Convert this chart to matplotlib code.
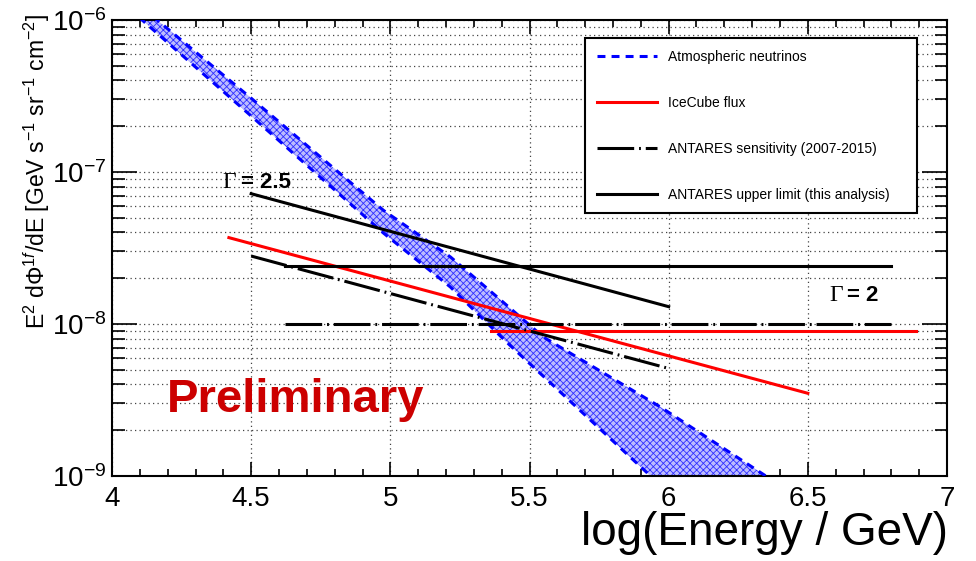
import matplotlib
matplotlib.use('Agg')
import matplotlib.pyplot as plt
from matplotlib.ticker import LogLocator, MultipleLocator, FuncFormatter, NullFormatter, FixedLocator
import numpy as np

plt.rcParams['font.family'] = ['Liberation Sans', 'DejaVu Sans']
plt.rcParams['mathtext.fontset'] = 'custom'
plt.rcParams['mathtext.rm'] = 'Liberation Sans'
plt.rcParams['mathtext.it'] = 'Liberation Sans:italic'
plt.rcParams['mathtext.bf'] = 'Liberation Sans:bold'
plt.rcParams['hatch.linewidth'] = 0.6

# ---------------- data ----------------
# atmospheric neutrino band (upper / lower edges)
atm_up_x = [4.0, 4.162, 4.496, 4.975, 5.216, 5.396, 5.55, 5.971, 6.349, 6.4]
atm_up_y = [1.75e-6, 1.0e-6, 3.1e-7, 5.6e-8, 2.76e-8, 1.44e-8, 8.2e-9, 2.84e-9, 1.0e-9, 8.5e-10]
atm_lo_x = [4.0, 4.108, 4.496, 4.975, 5.216, 5.421, 5.612, 5.935, 6.0]
atm_lo_y = [1.49e-6, 1.0e-6, 2.37e-7, 3.97e-8, 1.75e-8, 7.5e-9, 3.55e-9, 1.0e-9, 7.8e-10]

# IceCube flux
ic_x = [4.42, 6.5]
ic_y = [3.7e-8, 3.5e-9]
ic_flat_x = [5.36, 6.89]
ic_flat_y = [9.0e-9, 9.0e-9]

# ANTARES upper limits
ul25_x = [4.5, 6.0]
ul25_y = [7.2e-8, 1.3e-8]
ul2_x = [4.62, 6.8]
ul2_y = [2.4e-8, 2.4e-8]

# ANTARES sensitivity
se25_x = [4.5, 6.0]
se25_y = [2.8e-8, 5.1e-9]
se2_x = [4.62, 6.8]
se2_y = [1.0e-8, 1.0e-8]

legend_labels = ['Atmospheric neutrinos', 'IceCube flux',
                 'ANTARES sensitivity (2007-2015)', 'ANTARES upper limit (this analysis)']
x_ticks = [4, 4.5, 5, 5.5, 6, 6.5, 7]
x_ticklabels = ['4', '4.5', '5', '5.5', '6', '6.5', '7']

# ---------------- figure ----------------
fig = plt.figure(figsize=(9.76, 5.61), dpi=100)
ax = fig.add_axes([112/976, 1-476/561, (947-112)/976, (476-20)/561])
ax.set_yscale('log')
ax.set_xlim(4, 7)
ax.set_ylim(1e-9, 1e-6)

# grid
grid_kw = dict(color='#444444', linestyle=(0, (1, 2.6)), linewidth=0.9)
ax.xaxis.set_major_locator(FixedLocator(x_ticks))
ax.xaxis.set_minor_locator(MultipleLocator(0.1))
ax.yaxis.set_major_locator(LogLocator(base=10, numticks=10))
ax.yaxis.set_minor_locator(LogLocator(base=10, subs=np.arange(2, 10), numticks=20))
ax.grid(True, which='major', axis='both', **grid_kw)
ax.grid(True, which='minor', axis='y', **grid_kw)
ax.set_axisbelow(True)

# band
poly_x = atm_up_x + atm_lo_x[::-1]
poly_y = atm_up_y + atm_lo_y[::-1]
ax.fill(poly_x, poly_y, facecolor='#bcbcff', edgecolor='#3030ff', linewidth=0,
        hatch='xxxxx', zorder=2)
blue_dash = (0, (2.6, 2.0))
ax.plot(atm_up_x, atm_up_y, color='#0000ff', lw=2.2, linestyle=blue_dash, zorder=3,
        label=legend_labels[0])
ax.plot(atm_lo_x, atm_lo_y, color='#0000ff', lw=2.2, linestyle=blue_dash, zorder=3)

# IceCube
ax.plot(ic_x, ic_y, color='#ff0000', lw=2.2, zorder=4, label=legend_labels[1])
ax.plot(ic_flat_x, ic_flat_y, color='#ff0000', lw=2.2, zorder=4)

# sensitivity
sens_dash = (0, (12, 1.6, 0.6, 1.6))
ax.plot(se25_x, se25_y, color='black', lw=2.2, linestyle=sens_dash, zorder=5,
        label=legend_labels[2])
ax.plot(se2_x, se2_y, color='black', lw=2.2, linestyle=sens_dash, zorder=5)

# upper limits
ax.plot(ul25_x, ul25_y, color='black', lw=2.2, zorder=5, label=legend_labels[3])
ax.plot(ul2_x, ul2_y, color='black', lw=2.2, zorder=5)

# ticks
ax.tick_params(which='both', direction='in', top=True, right=True, width=1.2, color='black')
ax.xaxis.set_tick_params(which='major', length=9.9, pad=7, labelsize=20)
ax.xaxis.set_tick_params(which='minor', length=5.0)
ax.yaxis.set_tick_params(which='major', length=18, pad=4, labelsize=20)
ax.yaxis.set_tick_params(which='minor', length=9)
ax.set_xticklabels(x_ticklabels)


def yfmt(v, pos):
    e = int(round(np.log10(v)))
    return r'$10^{%d}$' % e


ax.yaxis.set_major_formatter(FuncFormatter(yfmt))
ax.yaxis.set_minor_formatter(NullFormatter())
for s in ax.spines.values():
    s.set_linewidth(1.5)

# labels
fig.text(948/976, 1-545/561, 'log(Energy / GeV)', ha='right', va='baseline', fontsize=33)
fig.text(37/976, 1-14/561,
         r'E$^{2}$ dΦ$^{1f}$/dE [GeV s$^{-1}$ sr$^{-1}$ cm$^{-2}$]',
         rotation=90, ha='center', va='top', fontsize=16.6)

# annotations
ax.text(4.396, 8.5e-8, 'Γ', family='Liberation Serif', fontsize=17, va='center', ha='left')
ax.text(4.462, 8.5e-8, '= 2.5', fontweight='bold', fontsize=16, va='center', ha='left')
ax.text(6.576, 1.53e-8, 'Γ', family='Liberation Serif', fontsize=17, va='center', ha='left')
ax.text(6.642, 1.53e-8, '= 2', fontweight='bold', fontsize=16, va='center', ha='left')
ax.text((167-112)/835, (476-400)/456, 'Preliminary', transform=ax.transAxes,
        color='#cc0000', fontweight='bold', fontsize=34, va='center', ha='left', zorder=6)

# legend
x0 = (585-112)/835
x1 = (917-112)/835
ytop = (476-38)/456
leg = ax.legend(loc='upper left', bbox_to_anchor=(x0, ytop - 0.5, x1 - x0, 0.5),
                mode='expand', borderaxespad=0, fontsize=10, handlelength=4.3,
                handletextpad=0.8, labelspacing=2.3, borderpad=0.85,
                fancybox=False, edgecolor='black', framealpha=1)
leg.get_frame().set_linewidth(1.5)
leg.set_zorder(10)

fig.savefig('out.png', dpi=100)
